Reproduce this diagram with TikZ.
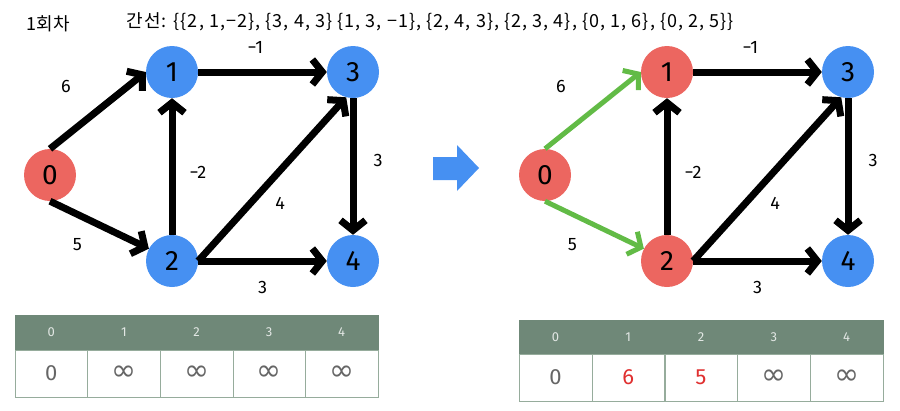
\documentclass[tikz,border=0pt]{standalone}
\usepackage{fontspec}
\setmainfont{Fira Sans}
\newfontfamily\krfont{Noto Sans CJK KR}
\newfontfamily\krwide[LetterSpace=6]{Noto Sans CJK KR}
\newfontfamily\inffont{DejaVu Sans}
\definecolor{gblue}{RGB}{70,144,242}
\definecolor{gred}{RGB}{236,102,96}
\definecolor{ggreen}{RGB}{98,187,70}
\definecolor{thead}{RGB}{111,136,120}
\definecolor{tline}{RGB}{150,172,156}
\definecolor{ttext}{RGB}{102,102,102}
\definecolor{tred}{RGB}{224,48,48}
\usetikzlibrary{arrows.meta,positioning}

\begin{document}
\begin{tikzpicture}[x=1pt, y=-1pt,
    vtx/.style={circle, minimum size=52pt, inner sep=0pt,
                font=\fontsize{28}{28}\selectfont},
    bvtx/.style={vtx, fill=gblue},
    rvtx/.style={vtx, fill=gred},
    arr/.style={-{Straight Barb[length=10pt, width=25pt]}, line width=7pt},
    garr/.style={arr, ggreen, line width=5pt},
    lbl/.style={font=\fontsize{18}{18}\selectfont},
    hcell/.style={rectangle, draw=thead, fill=thead, minimum width=72.6pt,
                  minimum height=35pt, inner sep=0pt,
                  font=\fontsize{13}{13}\selectfont, text=white!80!thead},
    vcell/.style={rectangle, draw=tline, fill=white, minimum width=72.6pt,
                  minimum height=47pt, inner sep=0pt,
                  font=\fontsize{22}{22}\selectfont, text=ttext},
    infcell/.style={vcell, font=\inffont\fontsize{30}{30}\selectfont}
  ]
    \useasboundingbox (0,0) rectangle (900,410);

    % Title
    \node[font=\krfont\fontsize{18}{18}\selectfont, anchor=west] (round) at (23,24) {1회차};
    \node[font=\krwide\fontsize{18}{18}\selectfont, anchor=west] (edges) at (123,22)
      {간선: \{\{2, 1,−2\}, \{3, 4, 3\} \{1, 3, −1\}, \{2, 4, 3\}, \{2, 3, 4\}, \{0, 1, 6\}, \{0, 2, 5\}\}};

    % Left graph
    \node[rvtx] (n0) at (50,175) {0};
    \node[bvtx] (n1) at (172,72) {1};
    \node[bvtx] (n2) at (172,261) {2};
    \node[bvtx] (n3) at (353,72) {3};
    \node[bvtx] (n4) at (353,261) {4};

    \draw[arr] (n0.north) -- node[lbl, shift={(-32,-24)}] {6} (n1.west);
    \draw[arr] (n0.south) -- node[lbl, shift={(-22,20)}] {5} (n2.152);
    \draw[arr] (n1.east) -- node[lbl, shift={(-7,-25)}] {−1} (n3.west);
    \draw[arr] (n2.north) -- node[lbl, shift={(26,6)}] {−2} (n1.south);
    \draw[arr] (n2.east) -- node[lbl, shift={(8,24)}] {4} (n3.255);
    \draw[arr] (n3.south) -- node[lbl, shift={(25,-6)}] {3} (n4.north);
    \draw[arr] (n2.east) -- node[lbl, shift={(0,26)}] {3} (n4.west);

    % Step arrow
    \fill[gblue] (433,157) -- (457,157) -- (457,145) -- (479,168) -- (457,191)
      -- (457,180) -- (433,180) -- cycle;

    % Right graph
    \node[rvtx] (m0) at (545,175) {0};
    \node[rvtx] (m1) at (667,72) {1};
    \node[rvtx] (m2) at (667,261) {2};
    \node[bvtx] (m3) at (848,72) {3};
    \node[bvtx] (m4) at (848,261) {4};

    \draw[garr] (m0.north) -- node[lbl, black, shift={(-32,-24)}] {6} (m1.west);
    \draw[garr] (m0.south) -- node[lbl, black, shift={(-22,20)}] {5} (m2.152);
    \draw[arr] (m1.east) -- node[lbl, shift={(-7,-25)}] {−1} (m3.west);
    \draw[arr] (m2.north) -- node[lbl, shift={(26,6)}] {−2} (m1.south);
    \draw[arr] (m2.east) -- node[lbl, shift={(8,24)}] {4} (m3.255);
    \draw[arr] (m3.south) -- node[lbl, shift={(25,-6)}] {3} (m4.north);
    \draw[arr] (m2.east) -- node[lbl, shift={(0,26)}] {3} (m4.west);

    % Left table
    \node[hcell] (lh0) at (51.3,332.5) {0};
    \node[hcell] (lh1) at (123.9,332.5) {1};
    \node[hcell] (lh2) at (196.5,332.5) {2};
    \node[hcell] (lh3) at (269.1,332.5) {3};
    \node[hcell] (lh4) at (341.7,332.5) {4};
    \node[vcell] (lv0) at (51.3,373.5) {0};
    \node[infcell] (lv1) at (123.9,373.5) {∞};
    \node[infcell] (lv2) at (196.5,373.5) {∞};
    \node[infcell] (lv3) at (269.1,373.5) {∞};
    \node[infcell] (lv4) at (341.7,373.5) {∞};

    % Right table
    \node[hcell, minimum height=34pt] (rh0) at (555.4,337) {0};
    \node[hcell, minimum height=34pt] (rh1) at (628.2,337) {1};
    \node[hcell, minimum height=34pt] (rh2) at (701.0,337) {2};
    \node[hcell, minimum height=34pt] (rh3) at (773.8,337) {3};
    \node[hcell, minimum height=34pt] (rh4) at (846.6,337) {4};
    \node[vcell] (rv0) at (555.4,377.5) {0};
    \node[vcell, text=tred] (rv1) at (628.2,377.5) {6};
    \node[vcell, text=tred] (rv2) at (701.0,377.5) {5};
    \node[infcell] (rv3) at (773.8,377.5) {∞};
    \node[infcell] (rv4) at (846.6,377.5) {∞};
  \end{tikzpicture}
\end{document}
